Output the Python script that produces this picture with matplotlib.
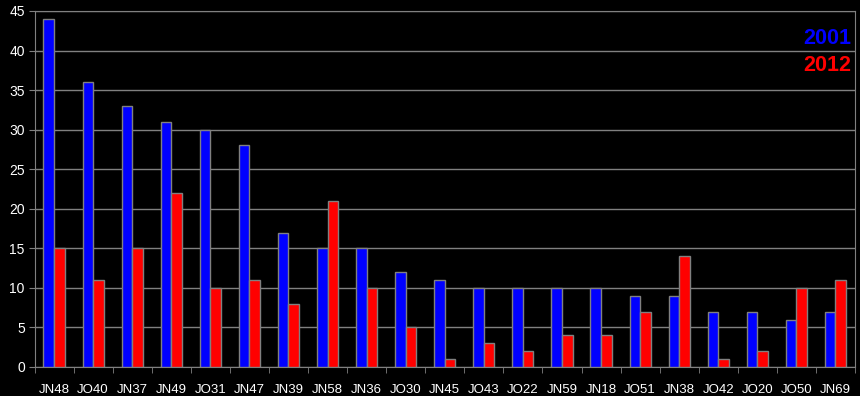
import matplotlib.pyplot as plt
import numpy as np

plt.rcParams['font.family'] = ['Liberation Sans', 'DejaVu Sans']

locators = ["JN48", "JO40", "JN37", "JN49", "JO31", "JN47", "JN39", "JN58", "JN36", "JO30", "JN45",
            "JO43", "JO22", "JN59", "JN18", "JO51", "JN38", "JO42", "JO20", "JO50", "JN69"]
counts_2001 = [44, 36, 33, 31, 30, 28, 17, 15, 15, 12, 11, 10, 10, 10, 10, 9, 9, 7, 7, 6, 7]
counts_2012 = [15, 11, 15, 22, 10, 11, 8, 21, 10, 5, 1, 3, 2, 4, 4, 7, 14, 1, 2, 10, 11]

fig = plt.figure(figsize=(8.6, 3.96), dpi=100)
fig.patch.set_facecolor('black')
ax = fig.add_axes([34.5 / 860, 29 / 396, (855 - 34.5) / 860, (367 - 11) / 396])
ax.set_facecolor('black')

x = np.arange(len(locators))
w = 0.27
ax.bar(x - w / 2, counts_2001, w, color='#0000ff', edgecolor='#808080', linewidth=1, zorder=3)
ax.bar(x + w / 2, counts_2012, w, color='#ff0000', edgecolor='#808080', linewidth=1, zorder=3)

ax.set_xlim(-0.5, len(locators) - 0.5)
ax.set_ylim(0, 45)
ax.set_yticks(range(0, 46, 5))
ax.set_xticks(x)
ax.set_xticklabels(locators)
ax.set_xticks(np.arange(-0.5, len(locators), 1), minor=True)
ax.tick_params(axis='x', which='major', length=0, pad=12, colors='white', labelsize=9.5)
ax.tick_params(axis='x', which='minor', length=4, color='#808080')
ax.tick_params(axis='y', length=4, color='#808080', colors='white', labelsize=10, pad=3)
ax.grid(axis='y', color='#808080', linewidth=1, zorder=0)

for s in ax.spines.values():
    s.set_color('#808080')

# legend as coloured text top right
ax.text(0.996, 0.924, "2001", color='#0000ff', fontsize=15.5, fontweight='bold',
        ha='right', va='center', transform=ax.transAxes)
ax.text(0.996, 0.848, "2012", color='#ff0000', fontsize=15.5, fontweight='bold',
        ha='right', va='center', transform=ax.transAxes)

fig.savefig('out.png', dpi=100, facecolor='black')
